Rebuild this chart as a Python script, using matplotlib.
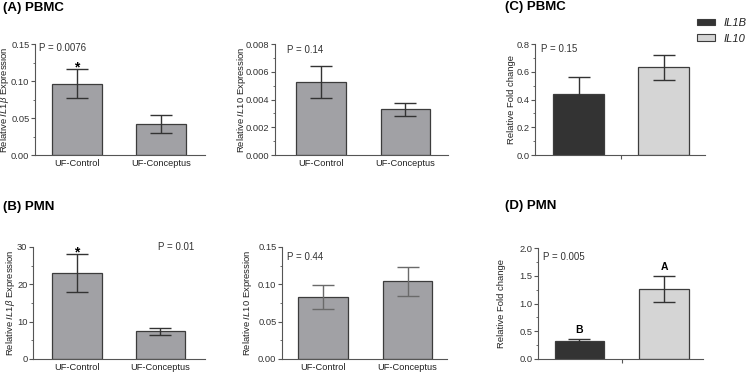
import numpy as np
import matplotlib
matplotlib.use('Agg')
import matplotlib.pyplot as plt
from matplotlib.patches import Patch

plt.rcParams['font.family'] = ['Liberation Sans', 'DejaVu Sans']
plt.rcParams['mathtext.fontset'] = 'custom'
plt.rcParams['mathtext.rm'] = 'Liberation Sans'
plt.rcParams['mathtext.it'] = 'Liberation Sans:italic'

# dados
grupos = ['UF-Control', 'UF-Conceptus']
genes = ['IL1B', 'IL10']

pbmc_il1b = [0.0965, 0.0418]
pbmc_il1b_err = [0.0195, 0.0117]
pbmc_il10 = [0.00524, 0.00329]
pbmc_il10_err = [0.00114, 0.00049]
pmn_il1b = [23.1, 7.45]
pmn_il1b_err = [5.15, 0.95]
pmn_il10 = [0.0826, 0.104]
pmn_il10_err = [0.016, 0.0198]
fold_pbmc = [0.4375, 0.632]
fold_pbmc_err = [0.122, 0.088]
fold_pmn = [0.328, 1.26]
fold_pmn_err = [0.038, 0.235]

W, H = 748, 373
fig = plt.figure(figsize=(W / 100, H / 100), dpi=100)

CINZA = '#a1a1a5'
ESCURO = '#333333'
CLARO = '#d5d5d5'
BORDA = '#3c3c3c'
EIXO = '#555555'


def eixo_px(left, right, top, bottom):
    return fig.add_axes([left / W, 1 - bottom / H, (right - left) / W, (bottom - top) / H])


def painel(box, valores, erros, cores, xlim, ylim, major, minor, fmt, ylabel, label_cx,
           xlabels=True, errcolor='#333333'):
    ax = eixo_px(*box)
    x = np.arange(len(valores))
    ax.bar(x, valores, width=0.59, color=cores, edgecolor=BORDA, linewidth=0.9, zorder=2)
    ax.errorbar(x, valores, yerr=erros, fmt='none', ecolor=errcolor, elinewidth=1.0,
                capsize=8, capthick=1.0, zorder=3)
    ax.set_xlim(*xlim)
    ax.set_ylim(*ylim)
    ax.set_yticks(np.arange(ylim[0], ylim[1] + major / 2, major))
    ax.set_yticks(np.arange(ylim[0], ylim[1] + minor / 2, minor), minor=True)
    ax.yaxis.set_major_formatter(plt.FormatStrFormatter(fmt))
    for s in ['top', 'right']:
        ax.spines[s].set_visible(False)
    for s in ['left', 'bottom']:
        ax.spines[s].set_color(EIXO)
        ax.spines[s].set_linewidth(0.8)
    ax.tick_params(axis='y', which='major', length=3, width=0.8, color=EIXO,
                   labelsize=6.7, labelcolor='#333333', pad=1)
    ax.tick_params(axis='y', which='minor', length=1.8, width=0.6, color=EIXO)
    if xlabels:
        ax.set_xticks(x)
        ax.set_xticklabels(grupos)
        ax.tick_params(axis='x', length=0, labelsize=6.7, labelcolor='#222222', pad=3)
    else:
        ax.set_xticks([0.5])
        ax.set_xticklabels([''])
        ax.tick_params(axis='x', length=3, width=0.8, color=EIXO)
    ax.set_ylabel(ylabel, fontsize=6.8, color='#222222')
    left, right = box[0], box[1]
    ax.yaxis.set_label_coords((label_cx + 4.5 - left) / (right - left), 0.5)
    return ax


def texto_px(x, y, s, **kw):
    fig.text(x / W, 1 - y / H, s, **kw)


lbl_il1b = r'Relative $\mathit{IL1\beta}$ Expression'
lbl_il10 = r'Relative $\mathit{IL10}$ Expression'

# (A) PBMC
axA1 = painel((35, 205, 44, 155), pbmc_il1b, pbmc_il1b_err, CINZA, (-0.5, 1.524),
              (0, 0.15), 0.05, 0.025, '%.2f', lbl_il1b, 7)
axA2 = painel((275, 448, 44, 155), pbmc_il10, pbmc_il10_err, CINZA, (-0.544, 1.503),
              (0, 0.008), 0.002, 0.001, '%.3f', lbl_il10, 243)
# (C) PBMC
axC = painel((535, 705, 44, 155), fold_pbmc, fold_pbmc_err, [ESCURO, CLARO], (-0.512, 1.488),
             (0, 0.8), 0.2, 0.1, '%.1f', 'Relative Fold change', 512, xlabels=False)
# (B) PMN
axB1 = painel((33, 205, 247, 359), pmn_il1b, pmn_il1b_err, CINZA, (-0.527, 1.533),
              (0, 30), 10, 5, '%d', lbl_il1b, 13)
axB2 = painel((282, 447, 247, 359), pmn_il10, pmn_il10_err, CINZA, (-0.485, 1.467),
              (0, 0.15), 0.05, 0.025, '%.2f', lbl_il10, 249, errcolor='#6a6a6a')
# (D) PMN
axD = painel((538, 703, 248, 359), fold_pmn, fold_pmn_err, [ESCURO, CLARO], (-0.49, 1.46),
             (0, 2.0), 0.5, 0.25, '%.1f', 'Relative Fold change', 502, xlabels=False)

# asteriscos e letras de significancia
axA1.annotate('*', (0, pbmc_il1b[0] + pbmc_il1b_err[0]), xytext=(0, -4), textcoords='offset points',
              ha='center', va='bottom', fontsize=10, fontweight='bold')
axB1.annotate('*', (0, pmn_il1b[0] + pmn_il1b_err[0]), xytext=(0, -4), textcoords='offset points',
              ha='center', va='bottom', fontsize=10, fontweight='bold')
for i, letra in enumerate(['B', 'A']):
    axD.annotate(letra, (i, fold_pmn[i] + fold_pmn_err[i]), xytext=(0, 3), textcoords='offset points',
                 ha='center', va='bottom', fontsize=7.5, fontweight='bold')

# valores de P
kw_p = dict(fontsize=7, color='#333333', va='center', ha='left')
texto_px(39, 48, 'P = 0.0076', **kw_p)
texto_px(287, 50, 'P = 0.14', **kw_p)
texto_px(541, 49, 'P = 0.15', **kw_p)
texto_px(158, 247, 'P = 0.01', **kw_p)
texto_px(287, 257, 'P = 0.44', **kw_p)
texto_px(543, 257, 'P = 0.005', **kw_p)

# titulos dos paineis
kw_t = dict(fontsize=9.5, fontweight='bold', va='center', ha='left')
texto_px(3, 8, '(A) PBMC', **kw_t)
texto_px(3, 207, '(B) PMN', **kw_t)
texto_px(505, 7, '(C) PBMC', **kw_t)
texto_px(505, 206, '(D) PMN', **kw_t)

# legenda
handles = [Patch(facecolor=ESCURO, edgecolor=BORDA, linewidth=0.8),
           Patch(facecolor=CLARO, edgecolor=BORDA, linewidth=0.8)]
leg = fig.legend(handles, genes, loc='upper left', bbox_to_anchor=(697 / W, 1 - 18 / H),
                 frameon=False, borderpad=0, borderaxespad=0, handlelength=1.6, handleheight=0.55,
                 handletextpad=0.8, labelspacing=0.5,
                 prop={'size': 8, 'style': 'italic', 'family': ['Liberation Sans', 'DejaVu Sans']})
for t in leg.get_texts():
    t.set_color('#222222')

fig.savefig('out.png', dpi=100)
